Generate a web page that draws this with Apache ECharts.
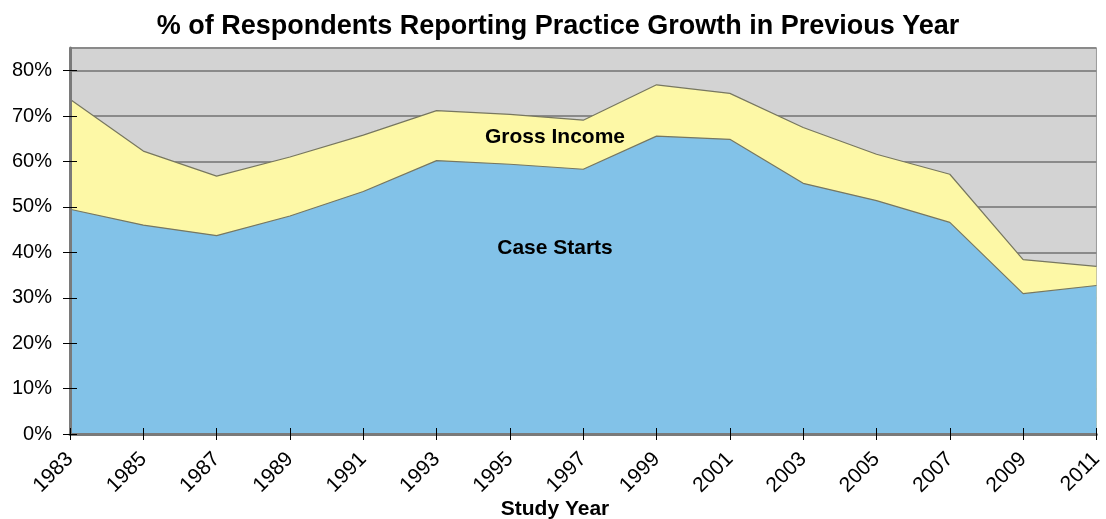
<!DOCTYPE html>
<html><head><meta charset="utf-8">
<script src="https://cdn.jsdelivr.net/npm/echarts@6/dist/echarts.min.js"></script>
<style>html,body{margin:0;padding:0;background:#fff}#c{width:1106px;height:519px}</style>
</head><body><div id="c"></div>
<script>
const years = ['1983','1985','1987','1989','1991','1993','1995','1997','1999','2001','2003','2005','2007','2009','2011'];
const caseStarts = [49.5, 46, 43.7, 48, 53.4, 60.2, 59.4, 58.3, 65.6, 64.9, 55.2, 51.4, 46.6, 30.9, 32.7];
const grossIncome = [73.7, 62.3, 56.8, 61, 65.8, 71.2, 70.4, 69.1, 76.9, 75, 67.5, 61.6, 57.2, 38.4, 36.9];
const yTicks = [0,10,20,30,40,50,60,70,80];
const yMax = 85;
// half-step slots (0,5,...,85) for a tick-only category axis matching the value axis
const ySlots = [];
for (let v = 0; v <= yMax; v += 5) ySlots.push(v);

const chart = echarts.init(document.getElementById('c'), null, {renderer:'canvas'});
const font = '"Liberation Sans", Arial, sans-serif';
const showSlot = (i, v) => yTicks.includes(Number(v));
chart.setOption({
  animation: false,
  title: {
    text: '% of Respondents Reporting Practice Growth in Previous Year',
    left: 553, top: 8, textAlign: 'center',
    textStyle: {fontFamily: font, fontWeight: 'bold', fontSize: 27, color: '#000'}
  },
  grid: {left: 70, right: 3, top: 48, bottom: 85, show: true, backgroundColor: '#d3d3d3', borderColor: '#9a9a9a', borderWidth: 1},
  xAxis: [{
    type: 'category', data: years, boundaryGap: false, z: 10,
    axisLine: {lineStyle: {color: '#7a7a7a', width: 3}},
    axisTick: {show: true, length: 6, lineStyle: {color: '#000', width: 1}},
    axisLabel: {rotate: 45, fontFamily: font, fontSize: 21, color: '#000', margin: 22},
    splitLine: {show: false}
  }, {
    type: 'category', data: years, boundaryGap: false, position: 'bottom', z: 11,
    axisLine: {show: false},
    axisTick: {show: true, inside: true, length: 6, lineStyle: {color: '#000', width: 1}},
    axisLabel: {show: false}, splitLine: {show: false}
  }],
  yAxis: [{
    type: 'value', min: 0, max: yMax, interval: 10, z: 0,
    axisLine: {show: false},
    axisTick: {show: false}, axisLabel: {show: false},
    splitLine: {show: true, lineStyle: {color: '#8a8a8a', width: 2}}
  }, {
    type: 'category', data: ySlots, boundaryGap: false, position: 'left', z: 10,
    axisLine: {show: true, lineStyle: {color: '#7a7a7a', width: 3}},
    axisTick: {show: true, length: 7, interval: showSlot, lineStyle: {color: '#000', width: 1}},
    axisLabel: {fontFamily: font, fontSize: 20, color: '#000', margin: 18, interval: showSlot,
      formatter: v => v + '%'},
    splitLine: {show: false}
  }, {
    type: 'category', data: ySlots, boundaryGap: false, position: 'left', z: 11,
    axisLine: {show: false},
    axisTick: {show: true, inside: true, length: 7, interval: showSlot, lineStyle: {color: '#000', width: 1}},
    axisLabel: {show: false}, splitLine: {show: false}
  }],
  series: [
    {name: 'Gross Income', type: 'line', data: grossIncome, symbol: 'none', yAxisIndex: 0,
     lineStyle: {color: '#777760', width: 1.2}, areaStyle: {color: '#fdf8a6', opacity: 1}, z: 2},
    {name: 'Case Starts', type: 'line', data: caseStarts, symbol: 'none', yAxisIndex: 0,
     lineStyle: {color: '#777760', width: 1.2}, areaStyle: {color: '#82c2e8', opacity: 1}, z: 3}
  ],
  graphic: [
    {type: 'text', x: 555, y: 137, z: 10, style: {text: 'Gross Income', font: 'bold 21px ' + font, fill: '#000', align: 'center', verticalAlign: 'middle'}},
    {type: 'text', x: 555, y: 248, z: 10, style: {text: 'Case Starts', font: 'bold 21px ' + font, fill: '#000', align: 'center', verticalAlign: 'middle'}},
    {type: 'text', x: 555, y: 509, z: 10, style: {text: 'Study Year', font: 'bold 21px ' + font, fill: '#000', align: 'center', verticalAlign: 'middle'}}
  ]
});
</script></body></html>
